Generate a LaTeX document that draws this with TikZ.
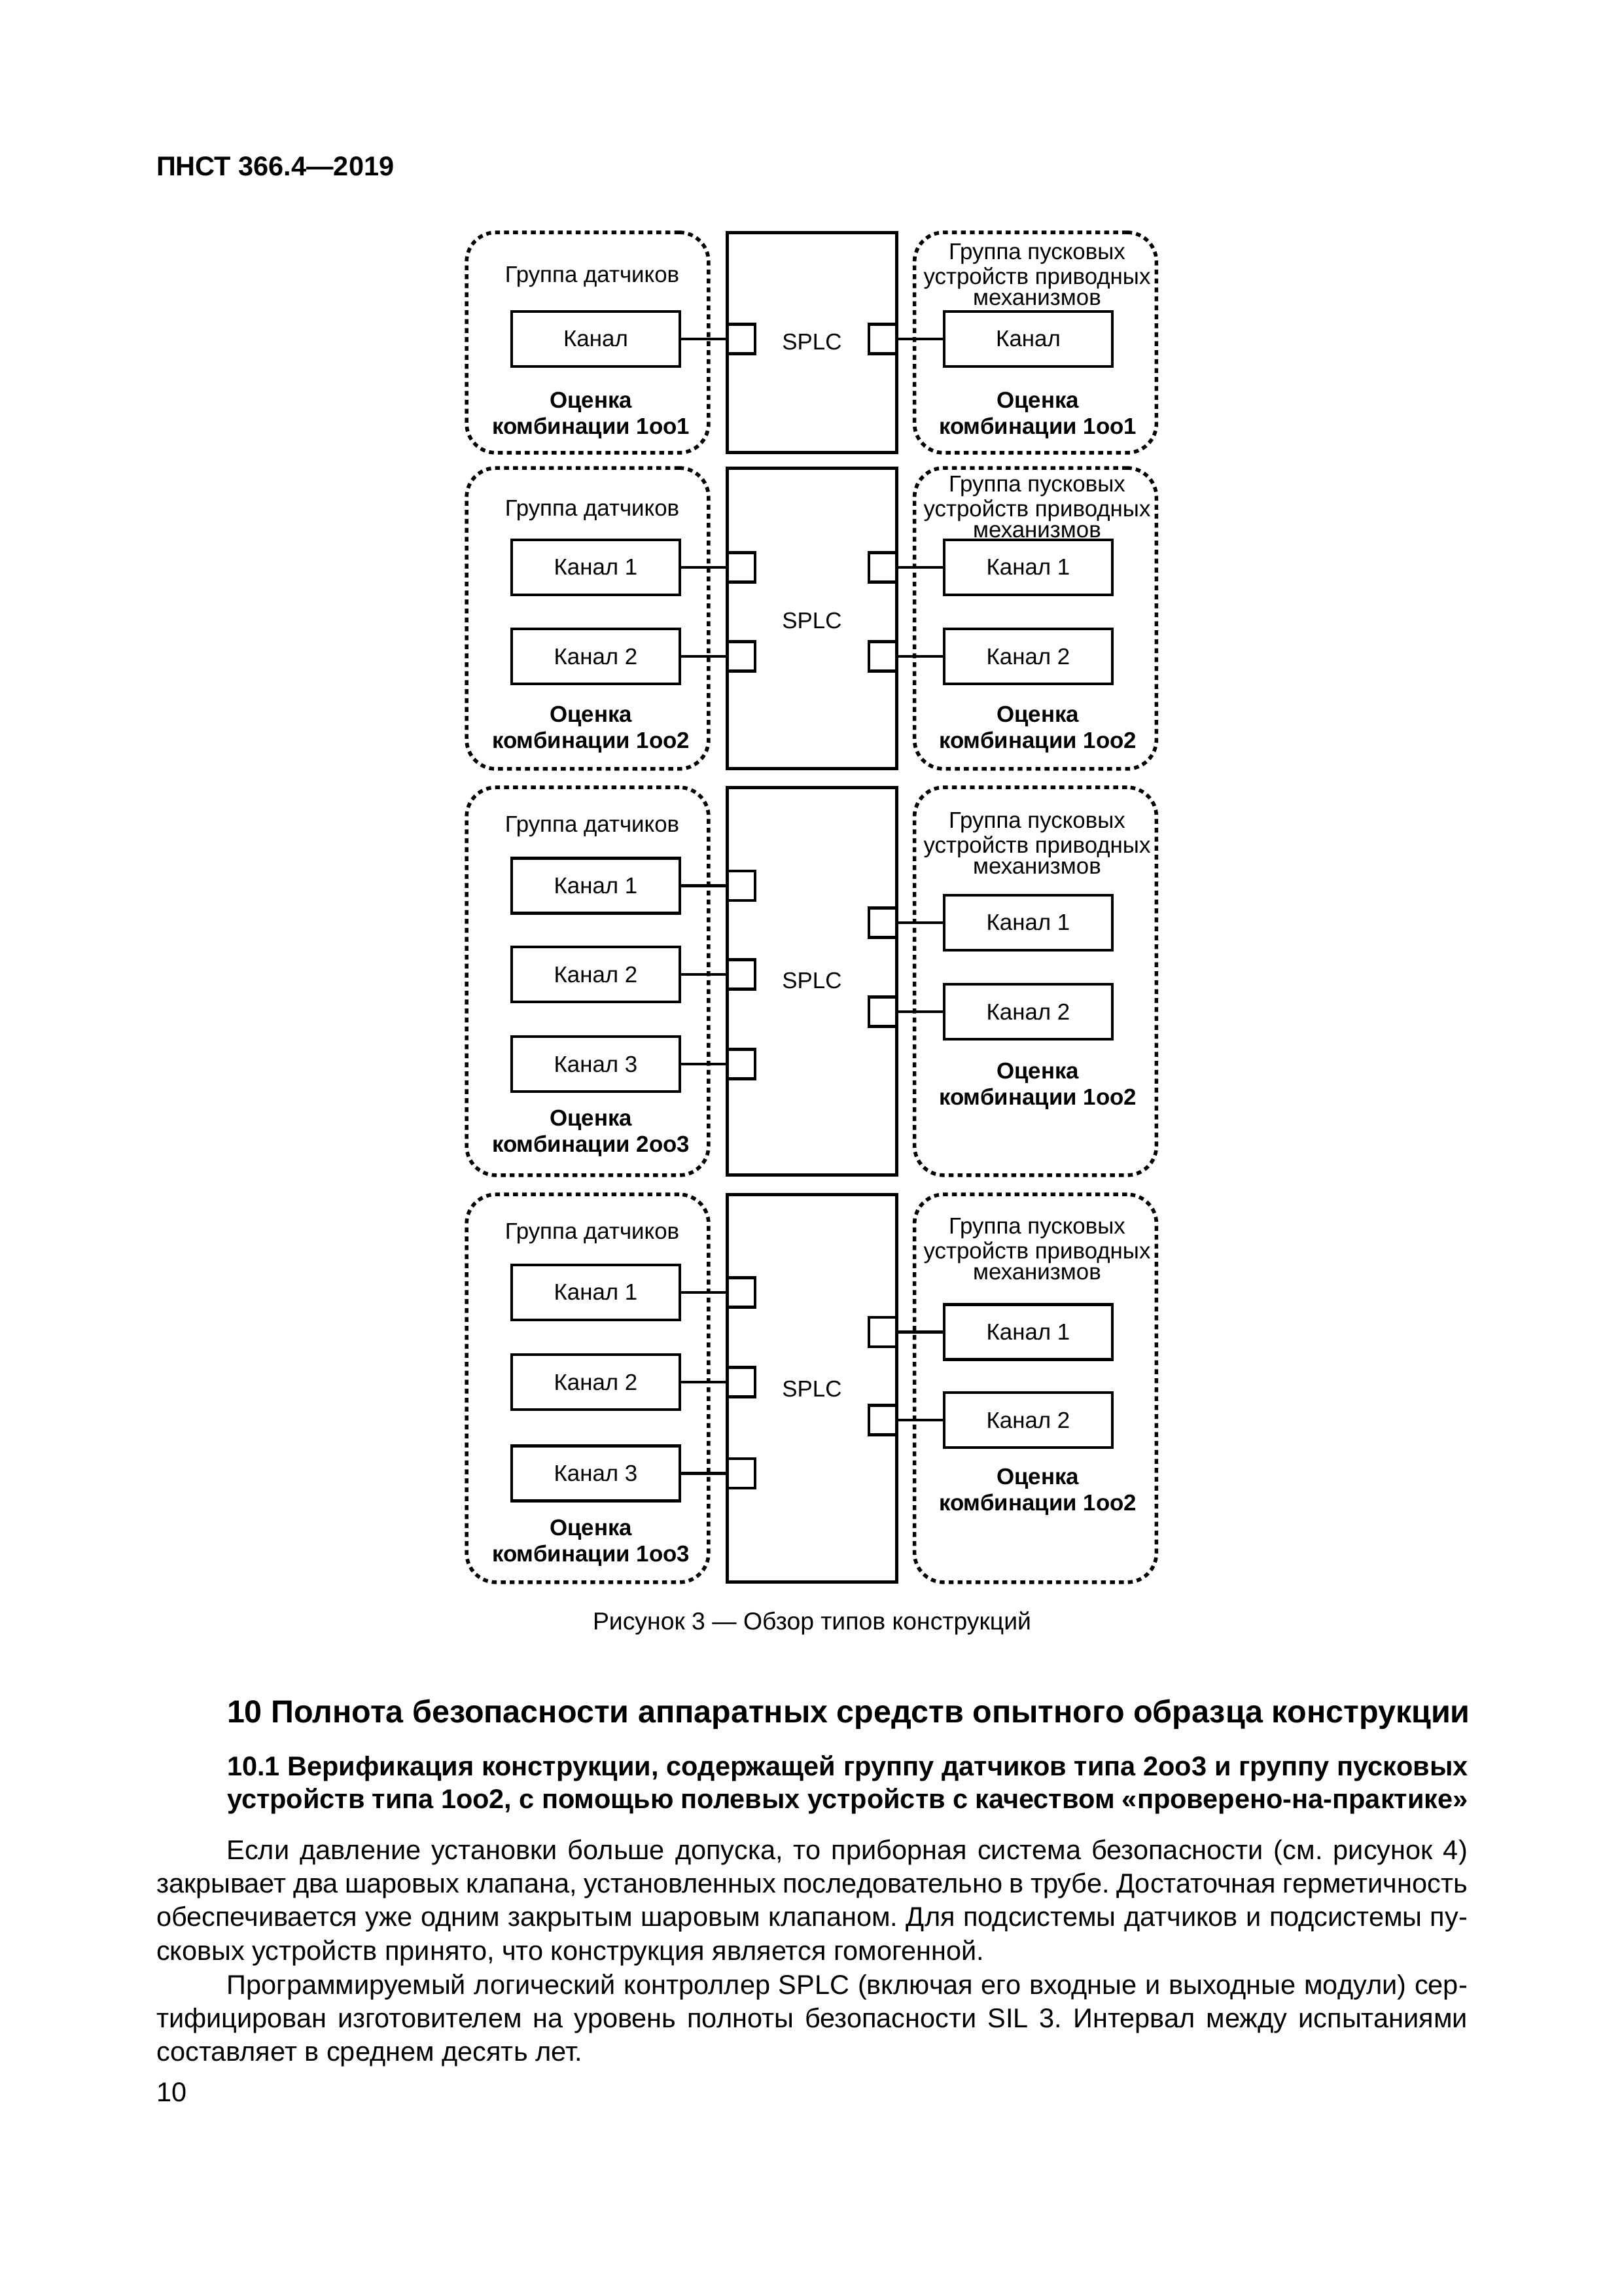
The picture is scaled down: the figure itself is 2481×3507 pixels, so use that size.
\documentclass[tikz,border=0pt]{standalone}
\usepackage{fontspec}
\setmainfont{Liberation Sans}
\usetikzlibrary{positioning}
\frenchspacing
\begin{document}
\begin{tikzpicture}[
    x=0.0084643cm, y=-0.0084643cm,
    every node/.style={inner sep=0pt, outer sep=0pt},
    kanal/.style={
      draw,
      line width=1.1pt,
      minimum width=2.175cm,
      minimum height=0.711cm,
      font=\fontsize{8.4}{9.5}\selectfont
    },
    splc/.style={
      draw,
      line width=1.2pt,
      minimum width=2.201cm,
      font=\fontsize{8.4}{9.5}\selectfont
    },
    gruppa/.style={
      draw,
      line width=1.35pt,
      dash pattern=on 1.8pt off 1.5pt,
      rounded corners=0.38cm,
      minimum width=3.132cm
    },
    port/.style={
      draw,
      line width=1.1pt,
      minimum width=0.364cm,
      minimum height=0.381cm
    },
    titel/.style={align=center, font=\fontsize{8.4}{7.9}\selectfont},
    ocenka/.style={align=center, font=\bfseries\fontsize{8.4}{9.6}\selectfont},
    link/.style={line width=1.1pt},
    absatz/.style={
      anchor=base west,
      text width=16.97cm,
      align=justify,
      font=\fontsize{10}{12.4}\selectfont
    }
  ]
  \path[use as bounding box, fill=white] (0,0) rectangle (2481,3507);

  \node[anchor=base west, font=\bfseries\fontsize{10}{12}\selectfont] (kopf) at (239,268) {ПНСТ 366.4—2019};

  \node[gruppa, minimum height=2.852cm] (g1) at (898,523.5) {};
  \node[splc, minimum height=2.852cm] (s1) at (1241,523.5) {};
  \node[gruppa, minimum height=2.852cm] (a1) at (1582.5,523.5) {};
  \node[font=\fontsize{8.4}{9.5}\selectfont] (s1t) at (1241,522) {SPLC};
  \node[titel] (g1t) at (905,423) {Группа датчиков};
  \node[titel] (a1t) at (1585,420) {Группа пусковых\\устройств приводных\\механизмов};
  \node[kanal] (g1k) at (910.5,518) {Канал};
  \node[port, anchor=west] (g1p) at (s1.west |- g1k) {};
  \node[kanal] (a1k) at (1571.5,518) {Канал};
  \node[port, anchor=east] (a1p) at (s1.east |- a1k) {};
  \draw[link] (g1k) -- (g1p);
  \draw[link] (a1p) -- (a1k);
  \node[ocenka] (g1o) at (903,635) {Оценка\\комбинации 1oo1};
  \node[ocenka] (a1o) at (1586,635) {Оценка\\комбинации 1oo1};

  \node[gruppa, minimum height=3.894cm] (g2) at (898,945) {};
  \node[splc, minimum height=3.894cm] (s2) at (1241,945) {};
  \node[gruppa, minimum height=3.894cm] (a2) at (1582.5,945) {};
  \node[font=\fontsize{8.4}{9.5}\selectfont] (s2t) at (1241,948) {SPLC};
  \node[titel] (g2t) at (905,780) {Группа датчиков};
  \node[titel] (a2t) at (1585,775) {Группа пусковых\\устройств приводных\\механизмов};
  \foreach \y/\n in {867/1, 1003/2} {
    \node[kanal] (g2k\n) at (910.5,\y) {Канал \n};
    \node[port, anchor=west] (g2p\n) at (s2.west |- g2k\n) {};
    \draw[link] (g2k\n) -- (g2p\n);
    \node[kanal] (a2k\n) at (1571.5,\y) {Канал \n};
    \node[port, anchor=east] (a2p\n) at (s2.east |- a2k\n) {};
    \draw[link] (a2p\n) -- (a2k\n);
  }
  \node[ocenka] (g2o) at (903,1115) {Оценка\\комбинации 1oo2};
  \node[ocenka] (a2o) at (1586,1115) {Оценка\\комбинации 1oo2};

  \node[gruppa, minimum height=5.019cm] (g3) at (898,1499.5) {};
  \node[splc, minimum height=5.019cm] (s3) at (1241,1499.5) {};
  \node[gruppa, minimum height=5.019cm] (a3) at (1582.5,1499.5) {};
  \node[font=\fontsize{8.4}{9.5}\selectfont] (s3t) at (1241,1498.5) {SPLC};
  \node[titel] (g3t) at (905,1263.5) {Группа датчиков};
  \node[titel] (a3t) at (1585,1289) {Группа пусковых\\устройств приводных\\механизмов};
  \foreach \y/\n in {1353.5/1, 1489/2, 1626/3} {
    \node[kanal] (g3k\n) at (910.5,\y) {Канал \n};
    \node[port, anchor=west] (g3p\n) at (s3.west |- g3k\n) {};
    \draw[link] (g3k\n) -- (g3p\n);
  }
  \foreach \y/\n in {1410/1, 1546/2} {
    \node[kanal] (a3k\n) at (1571.5,\y) {Канал \n};
    \node[port, anchor=east] (a3p\n) at (s3.east |- a3k\n) {};
    \draw[link] (a3p\n) -- (a3k\n);
  }
  \node[ocenka] (g3o) at (903,1732) {Оценка\\комбинации 2oo3};
  \node[ocenka] (a3o) at (1586,1660) {Оценка\\комбинации 1oo2};

  \node[gruppa, minimum height=5.019cm] (g4) at (898,2121.5) {};
  \node[splc, minimum height=5.019cm] (s4) at (1241,2121.5) {};
  \node[gruppa, minimum height=5.019cm] (a4) at (1582.5,2121.5) {};
  \node[font=\fontsize{8.4}{9.5}\selectfont] (s4t) at (1241,2122.5) {SPLC};
  \node[titel] (g4t) at (905,1885) {Группа датчиков};
  \node[titel] (a4t) at (1585,1909) {Группа пусковых\\устройств приводных\\механизмов};
  \foreach \y/\n in {1975/1, 2112/2, 2251.5/3} {
    \node[kanal] (g4k\n) at (910.5,\y) {Канал \n};
    \node[port, anchor=west] (g4p\n) at (s4.west |- g4k\n) {};
    \draw[link] (g4k\n) -- (g4p\n);
  }
  \foreach \y/\n in {2035.5/1, 2170/2} {
    \node[kanal] (a4k\n) at (1571.5,\y) {Канал \n};
    \node[port, anchor=east] (a4p\n) at (s4.east |- a4k\n) {};
    \draw[link] (a4p\n) -- (a4k\n);
  }
  \node[ocenka] (g4o) at (903,2358) {Оценка\\комбинации 1oo3};
  \node[ocenka] (a4o) at (1586,2280) {Оценка\\комбинации 1oo2};

  \node[anchor=base, font=\fontsize{9}{11}\selectfont] (bild) at (1241,2490) {Рисунок 3 — Обзор типов конструкций};

  \node[anchor=base west, font=\bfseries\fontsize{11.68}{14}\selectfont] (h10) at (347,2632) {10 Полнота безопасности аппаратных средств опытного образца конструкции};
  \node[anchor=base west, text width=16.06cm, align=justify, font=\bfseries\fontsize{10}{12.2}\selectfont] (h101) at (347,2713) {10.1 Верификация конструкции, содержащей группу датчиков типа 2oo3 и группу пусковых\linebreak устройств типа 1oo2, с помощью полевых устройств с качеством «проверено-на-практике»};

  \node[absatz] (p1) at (239,2841) {\hspace*{0.914cm}Если давление установки больше допуска, то приборная система безопасности (см. рисунок 4)\linebreak закрывает два шаровых клапана, установленных последовательно в трубе. Достаточная герметичность\linebreak обеспечивается уже одним закрытым шаровым клапаном. Для подсистемы датчиков и подсистемы пу-\linebreak сковых устройств принято, что конструкция является гомогенной.};
  \node[absatz] (p2) at (239,3047) {\hspace*{0.914cm}Программируемый логический контроллер SPLC (включая его входные и выходные модули) сер-\linebreak тифицирован изготовителем на уровень полноты безопасности SIL 3. Интервал между испытаниями\linebreak составляет в среднем десять лет.};

  \node[anchor=base west, font=\fontsize{10}{12}\selectfont] (seite) at (239,3211) {10};
\end{tikzpicture}
\end{document}
